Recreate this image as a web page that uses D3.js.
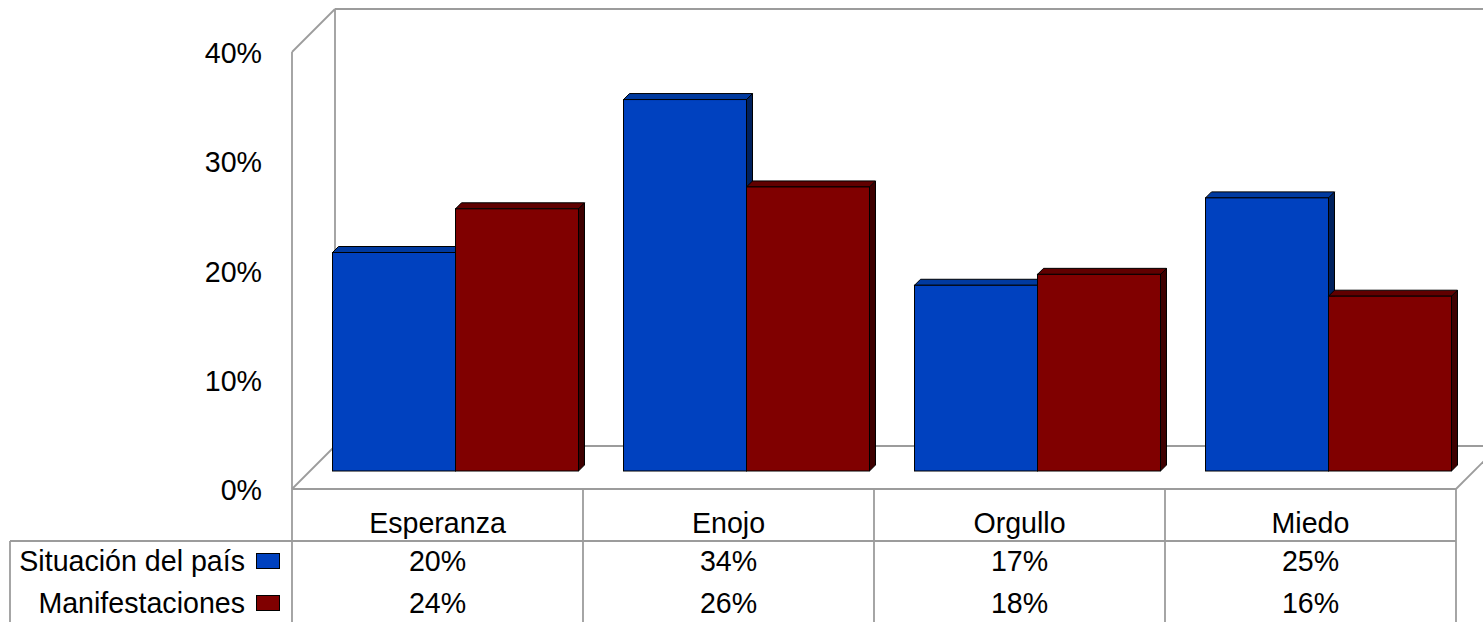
<!DOCTYPE html>
<html>
<head>
<meta charset="utf-8">
<script src="https://cdn.jsdelivr.net/npm/d3@7"></script>
<style>
  html, body { margin: 0; padding: 0; background: #ffffff; }
  svg { display: block; }
  text { font-family: "Liberation Sans", Arial, sans-serif; fill: #000; }
</style>
</head>
<body>
<svg id="chart" width="1483" height="622"></svg>
<script>
// ---- data ----
const categories = ["Esperanza", "Enojo", "Orgullo", "Miedo"];
const seriesNames = ["Situación del país", "Manifestaciones"];
const situacionValues = [0.20, 0.34, 0.17, 0.25];
const manifestacionesValues = [0.24, 0.26, 0.18, 0.16];
const yTickValues = [0, 0.1, 0.2, 0.3, 0.4];

// ---- styles ----
const seriesColors = [
  { front: "#0041bf", top: "#003aa0", side: "#00215e", legend: "#0041bf" },
  { front: "#800000", top: "#600000", side: "#3e0000", legend: "#800000" }
];
const gridColor = "#9c9c9c";
const fontSize = 28.6;

const svg = d3.select("#chart");
const W = 1483, H = 622;

// ---- geometry ----
const frontLeft = 292, frontRight = 1456;
const yFront0 = 489, yFront40 = 52;
const D = 43;        // depth of the plot box
const barZ = 18;     // depth where bars' front face sits
const barDepth = 6;  // thickness of the bars

const y = d3.scaleLinear().domain([0, 0.4]).range([yFront0, yFront40]);
const x = d3.scaleBand().domain(categories).range([frontLeft, frontRight]);
const xs = d3.scaleBand().domain(seriesNames).range([0, x.bandwidth()]).paddingOuter(0.183).paddingInner(0);

const seriesData = [situacionValues, manifestacionesValues];

// ---- walls / floor ----
const g = svg.append("g");
const line = (x1, y1, x2, y2) => g.append("line")
  .attr("x1", x1).attr("y1", y1).attr("x2", x2).attr("y2", y2)
  .attr("stroke", gridColor).attr("stroke-width", 1.8);

const yTop = y(0.4), yBot = y(0);
// back wall
line(frontLeft + D, yTop - D, frontRight + D, yTop - D);
line(frontLeft + D, yTop - D, frontLeft + D, yBot - D);
line(frontLeft + D, yBot - D, frontRight + D, yBot - D);
// left side wall
line(frontLeft, yTop, frontLeft + D, yTop - D);
line(frontLeft, yTop, frontLeft, yBot);
// floor
line(frontLeft, yBot, frontLeft + D, yBot - D);
line(frontRight, yBot, frontRight + D, yBot - D);
line(frontLeft, yBot, frontRight, yBot);

// ---- bars ----
const bars = svg.append("g");
categories.forEach((cat, ci) => {
  seriesData.forEach((vals, si) => {
    const v = vals[ci];
    const c = seriesColors[si];
    const x0 = x(cat) + xs(seriesNames[si]) + barZ;
    const x1 = x0 + xs.bandwidth();
    const yt = y(v) - barZ;
    const yb = y(0) - barZ;
    const d = barDepth;
    // side face
    bars.append("polygon")
      .attr("points", [[x1, yt], [x1 + d, yt - d], [x1 + d, yb - d], [x1, yb]].join(" "))
      .attr("fill", c.side).attr("stroke", "#000").attr("stroke-width", 1).attr("stroke-linejoin", "round");
    // top face
    bars.append("polygon")
      .attr("points", [[x0, yt], [x0 + d, yt - d], [x1 + d, yt - d], [x1, yt]].join(" "))
      .attr("fill", c.top).attr("stroke", "#000").attr("stroke-width", 1).attr("stroke-linejoin", "round");
    // front face
    bars.append("rect")
      .attr("x", x0).attr("y", yt).attr("width", x1 - x0).attr("height", yb - yt)
      .attr("fill", c.front).attr("stroke", "#000").attr("stroke-width", 1);
  });
});

// ---- y axis labels ----
const axis = d3.axisLeft(y).tickValues(yTickValues).tickFormat(d3.format(".0%")).tickSize(0).tickPadding(0);
const axG = svg.append("g").attr("transform", `translate(262,0)`).call(axis);
axG.select(".domain").remove();
axG.selectAll("text")
  .attr("font-family", "'Liberation Sans', Arial, sans-serif")
  .attr("font-size", fontSize).attr("fill", "#000").attr("dy", "0.37em");

// ---- data table ----
const tableTop = yBot, headerBottom = 541, rowH = 42;
const tbl = svg.append("g");
const tline = (x1, y1, x2, y2) => tbl.append("line")
  .attr("x1", x1).attr("y1", y1).attr("x2", x2).attr("y2", y2)
  .attr("stroke", gridColor).attr("stroke-width", 1.8);
tline(10, headerBottom, frontRight, headerBottom);
tline(10, headerBottom, 10, H + 2);
categories.forEach(cat => tline(x(cat), tableTop, x(cat), H + 2));
tline(frontRight, tableTop, frontRight, H + 2);

tbl.selectAll("text.cat").data(categories).join("text")
  .attr("class", "cat")
  .attr("x", d => x(d) + x.bandwidth() / 2)
  .attr("y", 533)
  .attr("text-anchor", "middle")
  .attr("font-size", fontSize)
  .text(d => d);

seriesNames.forEach((name, si) => {
  const base = 571 + si * rowH;
  tbl.append("text")
    .attr("x", 245).attr("y", base)
    .attr("text-anchor", "end")
    .attr("font-size", fontSize)
    .text(name);
  tbl.append("rect")
    .attr("x", 256.5).attr("y", base - 17.5).attr("width", 23).attr("height", 15)
    .attr("fill", seriesColors[si].legend).attr("stroke", "#000").attr("stroke-width", 1);
  tbl.selectAll(null).data(seriesData[si]).join("text")
    .attr("x", (d, i) => x(categories[i]) + x.bandwidth() / 2)
    .attr("y", base)
    .attr("text-anchor", "middle")
    .attr("font-size", fontSize)
    .text(d => d3.format(".0%")(d));
});
</script>
</body>
</html>
